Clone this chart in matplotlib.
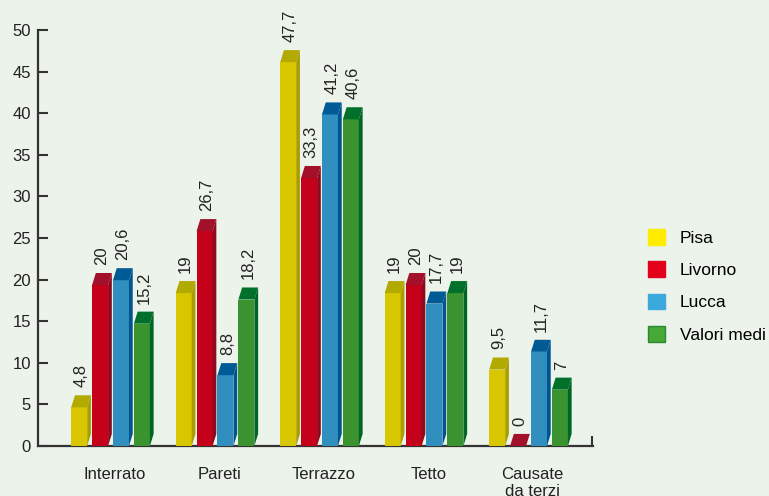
import matplotlib
matplotlib.use("Agg")
import matplotlib.pyplot as plt
from matplotlib.patches import Polygon, Patch

categories = ["Interrato", "Pareti", "Terrazzo", "Tetto", "Causate\nda terzi"]
series = ["Pisa", "Livorno", "Lucca", "Valori medi"]
pisa = [4.8, 19, 47.7, 19, 9.5]
livorno = [20, 26.7, 33.3, 20, 0]
lucca = [20.6, 8.8, 41.2, 17.7, 11.7]
valori_medi = [15.2, 18.2, 40.6, 19, 7]
values = [pisa, livorno, lucca, valori_medi]

# front, top, side, legend colours
front_cols = ["#D8C700", "#C4001A", "#318FC0", "#3A932F"]
top_cols = ["#B3AA00", "#A3102A", "#005A96", "#00702A"]
side_cols = ["#A89E00", "#8E0A1E", "#00558E", "#006624"]
legend_cols = ["#FFEC00", "#E3001B", "#3BA9DD", "#46A935"]
bg = "#ECF3EA"

plt.rcParams["font.family"] = ["Liberation Sans", "DejaVu Sans"]

fig = plt.figure(figsize=(7.69, 4.96), dpi=100, facecolor=bg)
ax = fig.add_axes([38 / 769, 50 / 496, 555 / 769, 416 / 496])
ax.set_facecolor(bg)

# the bars in the original are drawn on a slightly compressed scale
bx = ax.twinx()
bx.set_ylim(0, 51.7)
bx.axis("off")

width = 0.153
step = 0.2
dx = 0.036   # depth offset (x, group units)
dy = 1.5     # depth offset (y, bar units)

for s, vals in enumerate(values):
    off = (s - 1.5) * step
    xs = [i + off for i in range(len(categories))]
    bx.bar(xs, vals, width=width, color=front_cols[s], zorder=3)
    for x, v in zip(xs, vals):
        l, r = x - width / 2, x + width / 2
        bx.add_patch(Polygon([(l, v), (r, v), (r + dx, v + dy), (l + dx, v + dy)],
                             closed=True, facecolor=top_cols[s], edgecolor="none", zorder=3))
        bx.add_patch(Polygon([(r, 0), (r, v), (r + dx, v + dy), (r + dx, dy)],
                             closed=True, facecolor=side_cols[s], edgecolor="none", zorder=3))
        bx.text(x + dx / 2, v + dy + 1.0, f"{v:g}".replace(".", ","), rotation=90,
                ha="center", va="bottom", fontsize=12, color="#222222", clip_on=False)

ax.set_xlim(-0.694, 4.617)
ax.set_ylim(0, 50)
ax.set_yticks(range(0, 51, 5))
ax.set_xticks([i + 0.04 for i in range(len(categories))])
ax.set_xticklabels(categories)
ax.set_xticks([4.612], minor=True)
ax.tick_params(axis="x", which="major", length=0, pad=15, labelsize=12, colors="#222222")
ax.tick_params(axis="x", which="minor", direction="in", length=7, width=1.5, color="#333333")
ax.tick_params(axis="y", direction="in", length=7, width=1.5, color="#333333",
               labelsize=12, labelcolor="#222222", pad=5)
for sp in ["top", "right"]:
    ax.spines[sp].set_visible(False)
for sp in ["left", "bottom"]:
    ax.spines[sp].set_linewidth(1.6)
    ax.spines[sp].set_color("#333333")
    ax.spines[sp].set_zorder(4)

handles = [Patch(facecolor=legend_cols[i], edgecolor=("#2A8A30" if i == 3 else legend_cols[i]),
                 linewidth=1) for i in range(len(series))]
fig.legend(handles, series, loc="upper left", bbox_to_anchor=(648 / 769, 1 - 229 / 496),
           frameon=False, fontsize=12.5, handlelength=1.0, handleheight=1.0,
           labelspacing=0.9, handletextpad=0.85, borderpad=0, borderaxespad=0)

fig.savefig("out.png", dpi=100, facecolor=bg)
